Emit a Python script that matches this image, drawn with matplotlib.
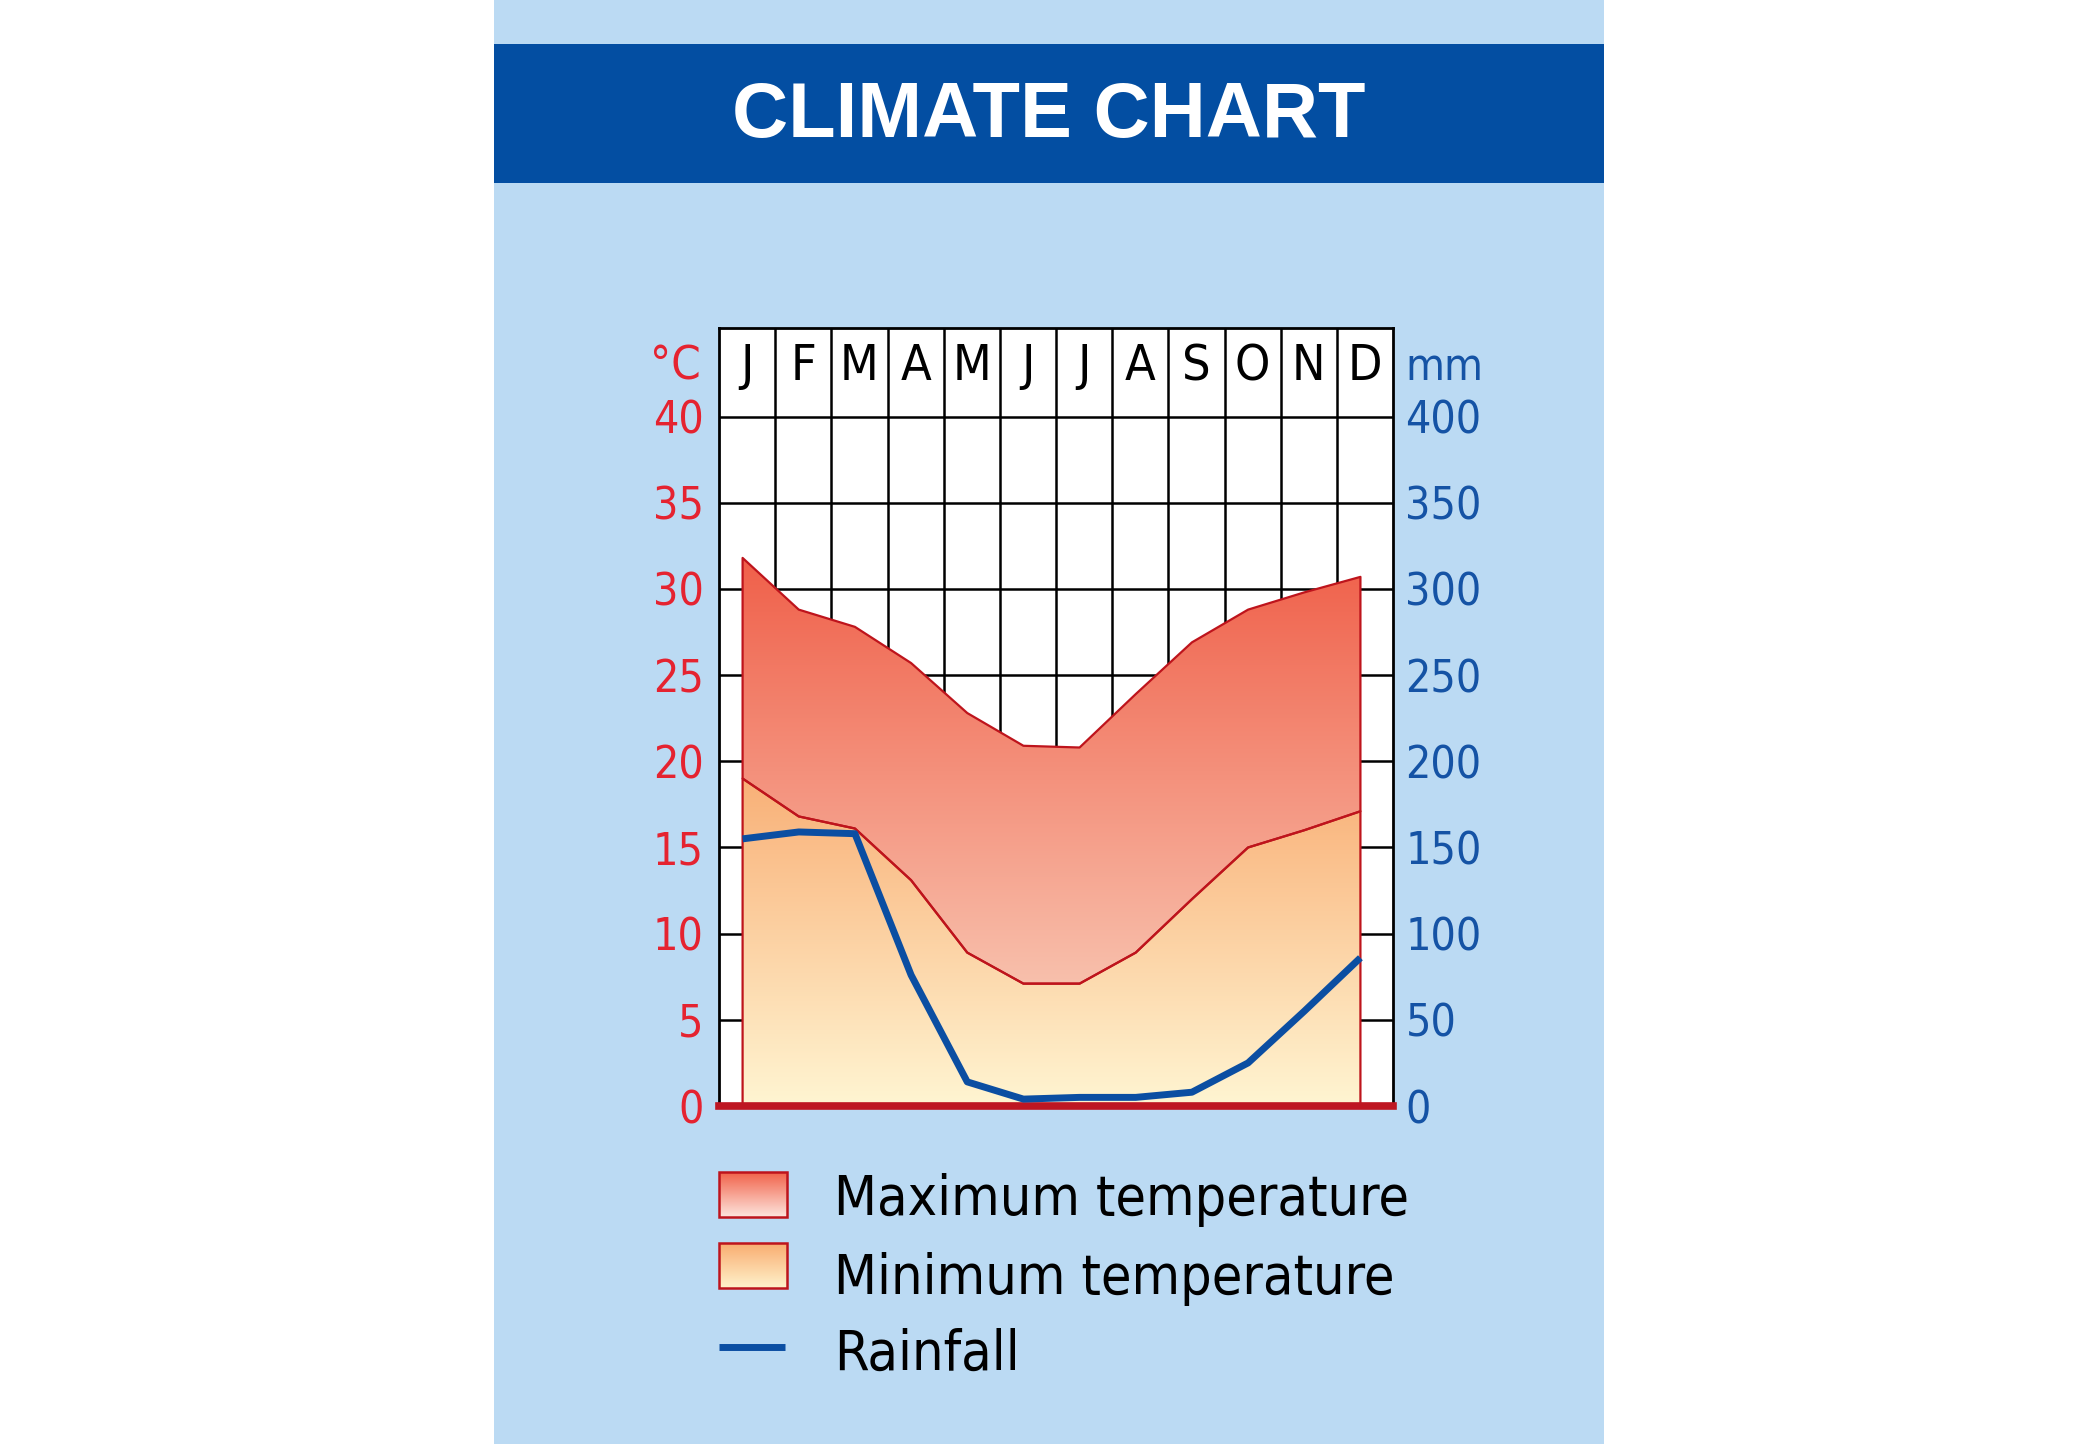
import numpy as np
import matplotlib
matplotlib.use('Agg')
import matplotlib.pyplot as plt
from matplotlib.colors import LinearSegmentedColormap
from matplotlib.patches import Rectangle
from matplotlib import font_manager

months = ['J', 'F', 'M', 'A', 'M', 'J', 'J', 'A', 'S', 'O', 'N', 'D']
max_temp = [31.8, 28.8, 27.8, 25.7, 22.8, 20.9, 20.8, 23.9, 26.9, 28.8, 29.8, 30.7]
min_temp = [19.0, 16.8, 16.1, 13.1, 8.9, 7.1, 7.1, 8.9, 12.0, 15.0, 16.0, 17.1]
rainfall = [155, 159, 158, 76, 14, 4, 5, 5, 8, 25, 55, 86]
temp_ticks = [0, 5, 10, 15, 20, 25, 30, 35, 40]
rain_ticks = [0, 50, 100, 150, 200, 250, 300, 350, 400]
legend_labels = ['Maximum temperature', 'Minimum temperature', 'Rainfall']

# condensed face if available
cond = [f for f in font_manager.fontManager.ttflist
        if f.name == 'DejaVu Sans' and f.stretch == 'condensed' and f.style == 'normal' and f.weight in (400, 'normal')]
if cond:
    NARROW_FP = font_manager.FontProperties(fname=cond[0].fname)
    has_cond = True
else:
    NARROW_FP = font_manager.FontProperties(family='DejaVu Sans')
    has_cond = False

def fp(size):
    p = NARROW_FP.copy()
    p.set_size(size)
    return p

RED_TXT = '#E52330'
BLUE_TXT = '#1553A5'
EDGE = '#BE141C'
RAIN_C = '#0B4EA2'
PANEL = '#BBDAF3'
BAND = '#034EA2'

W, H = 2100, 1446
fig = plt.figure(figsize=(W / 100, H / 100), dpi=100, facecolor='white')

bg = fig.add_axes([0, 0, 1, 1], zorder=0)
bg.axis('off')
bg.add_patch(Rectangle((494, 0), 1110, 1444, facecolor=PANEL, edgecolor='none'))
bg.add_patch(Rectangle((494, 44), 1110, 139, facecolor=BAND, edgecolor='none'))
bg.text(1049, 137, 'CLIMATE CHART', color='white', fontsize=56, fontweight='bold',
        family=['Liberation Sans', 'DejaVu Sans'], ha='center', va='baseline')

def swatch(x0, y0, w, h, c_top, c_bot):
    cmap = LinearSegmentedColormap.from_list('sw', [c_top, c_bot])
    bg.imshow(np.linspace(0, 1, 128).reshape(-1, 1), cmap=cmap, aspect='auto',
              origin='upper', extent=[x0, x0 + w, y0 + h, y0], zorder=2)
    bg.add_patch(Rectangle((x0, y0), w, h, facecolor='none', edgecolor=EDGE, lw=1.8, zorder=3))

swatch(719, 1172, 68, 45, '#F1634A', '#FDE4DD')
swatch(719, 1243, 68, 45, '#F9AC70', '#FFF2CB')
bg.plot([719, 785], [1347, 1347], color=RAIN_C, lw=5, solid_capstyle='butt')
leg_size = 40 if has_cond else 36
for lab, yb in zip(legend_labels, [1215, 1294, 1370]):
    bg.text(834, yb, lab, fontproperties=fp(leg_size), color='black', ha='left', va='baseline')
bg.set_xlim(0, W)
bg.set_ylim(H, 0)

left, right, top, bottom = 719, 1393, 328, 1106
ax = fig.add_axes([left / W, 1 - bottom / H, (right - left) / W, (bottom - top) / H], zorder=1)
ax.set_facecolor('white')
ytop = 45.14
x = np.arange(12) - 0.08

for yv in temp_ticks[1:]:
    ax.axhline(yv, color='black', lw=1.8, zorder=1)
for xv in np.arange(11) + 0.5:
    ax.axvline(xv, color='black', lw=1.8, zorder=1)

def gradient_fill(lo, hi, y0, y1, c_lo, c_hi):
    poly = ax.fill_between(x, lo, hi, facecolor='none', edgecolor=EDGE, lw=1.6, zorder=4)
    cmap = LinearSegmentedColormap.from_list('g', [c_lo, c_hi])
    img = ax.imshow(np.linspace(0, 1, 256).reshape(-1, 1), cmap=cmap, aspect='auto',
                    origin='lower', extent=[x[0], x[-1], y0, y1], zorder=3,
                    interpolation='bilinear')
    img.set_clip_path(poly.get_paths()[0], transform=ax.transData)

gradient_fill(np.zeros(12), min_temp, 0, max(min_temp), '#FFF5D2', '#F9B077')
gradient_fill(min_temp, max_temp, min(min_temp), max(max_temp), '#F8C0AC', '#F0604A')

tick_size = 32 if has_cond else 29
ax.set_xlim(-0.5, 11.5)
ax.set_ylim(0, ytop)
ax.set_yticks(temp_ticks)
ax.set_yticklabels([str(t) for t in temp_ticks], color=RED_TXT, fontproperties=fp(tick_size))
ax.set_xticks([])
ax.tick_params(axis='y', length=0, pad=11)
for s in ax.spines.values():
    s.set_color('black')
    s.set_linewidth(2)

for i, m in enumerate(months):
    ax.text(i, 42.12, m, ha='center', va='baseline', fontproperties=fp(36 if has_cond else 33), color='black')

ylab = (bottom - 380) / (bottom - top) * ytop
ax.text(-1.27, ylab, '°C', ha='center', va='baseline',
        fontproperties=fp(34 if has_cond else 30), color=RED_TXT, clip_on=False)

ax.axhline(0, color='#BE1622', lw=5.5, zorder=6, clip_on=False)

ax2 = ax.twinx()
ax2.set_ylim(0, ytop * 10)
ax2.plot(x, rainfall, color=RAIN_C, lw=5, solid_capstyle='butt', solid_joinstyle='round', zorder=5)
ax2.set_yticks(rain_ticks)
ax2.set_yticklabels([str(t) for t in rain_ticks], color=BLUE_TXT, fontproperties=fp(tick_size))
ax2.tick_params(axis='y', length=0, pad=9)
for s in ax2.spines.values():
    s.set_visible(False)
ax2.text(11.72, ylab * 10, 'mm', ha='left', va='baseline',
         fontproperties=fp(tick_size), color=BLUE_TXT, clip_on=False)

fig.savefig('out.png', dpi=100, facecolor='white')
